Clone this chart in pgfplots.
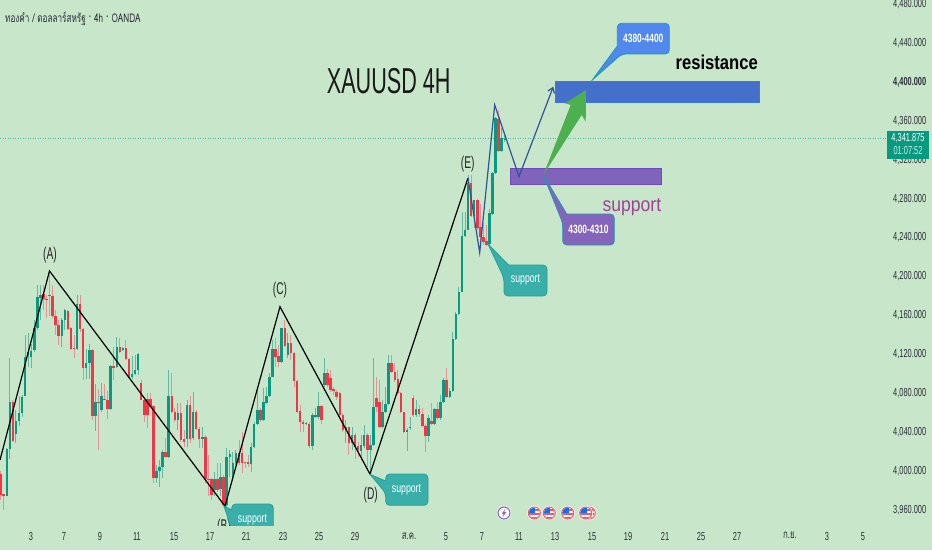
\documentclass[border=0pt]{standalone}
\usepackage{pgfplots}
\usepackage{pgfplotstable}
\usepackage{fontspec}
\usetikzlibrary{arrows.meta}
\pgfplotsset{compat=1.18}
\setmainfont[FakeStretch=.64]{Liberation Sans}
\newfontfamily\ftitle[FakeStretch=.6]{Liberation Sans}
\newfontfamily\fres[FakeStretch=.83]{Liberation Sans}
\newfontfamily\fsup[FakeStretch=.88]{Liberation Sans}
\newfontfamily\fcall[FakeStretch=.7]{Liberation Sans}
\newfontfamily\thaifont[Script=Thai,FakeStretch=.68]{Loma}
\definecolor{bgc}{HTML}{C8E6C9}
\definecolor{up}{HTML}{089981}
\definecolor{dn}{HTML}{F23645}
\definecolor{upw}{HTML}{62B8A0}
\definecolor{dnw}{HTML}{E8909A}
\definecolor{txt}{HTML}{2A2E39}
\definecolor{wave}{HTML}{2F5597}
\definecolor{tealc}{HTML}{3AAFA9}
\definecolor{teald}{HTML}{23A098}
\definecolor{bluec}{HTML}{5088EE}
\definecolor{purpc}{HTML}{8465BB}
\definecolor{edgec}{HTML}{1F98B0}
\definecolor{zoneb}{HTML}{4470CC}
\definecolor{zonebe}{HTML}{3C78E0}
\definecolor{zonep}{HTML}{8063BB}
\definecolor{zonepe}{HTML}{6F4BB5}
\definecolor{arrg}{HTML}{4CAF50}
\definecolor{supc}{HTML}{A0409A}
% i bottom top low high
\pgfplotstableread{
i bot top low high
2 3974 4022.5 3974 4023.5
3 4022.5 4071.5 4013 4116
5 4038 4052 4029 4063
6 4052 4060 4046 4077
7 4060 4076 4056 4078
8 4077 4117 4077 4140
9 4118 4123 4107 4142
10 4117 4124 4106 4131
11 4125 4147 4123 4155
12 4147 4179 4145 4191
13 4178 4181 4155 4191
20 4139 4155 4128 4157
21 4155 4166 4145 4167
25 4126 4172 4125 4181
28 4106 4111 4095 4126
29 4111 4125 4095 4131
31 4057 4071.5 4041 4090
33 4063 4077 4061 4091
36 4064 4108.5 4063 4109
38 4107.5 4128 4107 4138
40 4125 4127 4124.5 4127.3
43 4096.5 4100 4095 4118
44 4100 4104 4099 4119.4
45 4104 4120.5 4099 4121
51 3993 4000.5 3987.5 4006
52 4000.5 4004 3984 4011.5
53 4004 4020 3993 4021.8
55 4015 4077 4014 4104
58 4052.6 4059.5 4042 4070
61 4032.7 4068 4025 4073
63 4033.8 4060.5 4032 4081.8
66 4032.7 4035.5 4023.5 4045.8
70 3980.7 3991.6 3974 3999.5
72 3981.3 3994 3974 4008
74 3965 4015 3963.5 4023.5
75 4015 4017.3 3994.4 4021.8
76 3994.4 4008.8 3993 4020
77 4008 4019 4006 4021.8
82 4007.4 4025 3999.5 4028.6
83 4025 4049 4023.5 4051
84 4049 4063 4047.5 4085
86 4052.6 4071.5 4052 4085
87 4070 4077 4069 4087
88 4077.6 4097 4076.6 4100.6
89 4097 4126 4097 4135
92 4112.6 4147.5 4112 4147.5
94 4119.4 4131.4 4116 4141.7
100 4049 4050 4048.5 4051
102 4026 4057.7 4022 4059.5
103 4056 4057.7 4055 4064.6
104 4056 4067 4054 4081.7
106 4088.6 4100.6 4087 4116
113 4042 4045.8 4028.6 4052.6
115 4028.6 4037 4022 4045.8
118 4021 4027 4011.5 4037
119 4026 4037 4023.5 4047.5
121 4022 4027 3999.5 4037
122 4027 4066 4026 4116
125 4045.8 4061 4044 4073
126 4061 4069 4059.5 4087
127 4069 4111 4068 4119.4
133 4040.6 4042 4021 4044
134 4044 4045.8 4042 4056
136 4057.7 4063.6 4056 4073
140 4036.5 4055 4030 4057.7
142 4048.5 4063.6 4047.5 4064.6
144 4055 4071.5 4052.6 4078
145 4070.8 4093.7 4069.7 4095.5
147 4076.6 4082.4 4076 4085
148 4082.4 4135.5 4081.7 4143.4
149 4135.5 4162 4134.8 4164
150 4162 4184.5 4160.5 4189.6
151 4184 4242 4184 4266.8
152 4242 4248 4241 4266.8
153 4248 4296 4248 4304
155 4262 4278.7 4249.6 4278.7
160 4233.5 4265 4232.5 4269
161 4264.3 4306.8 4263 4308
162 4306.8 4362.7 4306 4364
164 4329 4342 4328.5 4352.4
165 4340.7 4341.875 4338.7 4347
}\greens
\pgfplotstableread{
i bot top low high
0 3976 3997 3970 4000
1 3974 3977 3960 3977
4 4031 4071.5 4030 4073
14 4177 4182 4166 4191
15 4176 4177 4157 4181
16 4180 4181 4159 4203
17 4159.5 4180 4157 4191
18 4150 4159.5 4140 4166
19 4139 4150 4130 4155
22 4146 4165 4145 4166
23 4126 4147 4125 4148.5
24 4126 4127 4116 4140
26 4146 4172 4143 4181
27 4106 4146 4094 4147
30 4057 4125 4053 4126
32 4070.5 4071.5 4022 4084
34 4073 4074 4073 4090
35 4064 4073 4054 4082
37 4106 4108 4094 4128
39 4123 4128 4122 4136.5
41 4115 4127 4114 4135
42 4096.5 4115 4095 4116
46 4073 4091 4073 4094
47 4058 4073 4051 4075
48 4058 4074 4044 4080
49 4066 4074 4064.6 4080
50 3993 4067 3987.5 4068
54 4015 4020 4015 4034
56 4060.5 4077 4059.5 4100.6
57 4052.6 4060.5 4051 4064.6
59 4032 4059.5 4030 4070
60 4030.3 4032.7 4025 4042
62 4033 4068 4028.6 4077
64 4043 4060.5 4042 4063
65 4032.7 4043 4023.5 4045.8
67 3991.6 4035.5 3987.5 4037
68 3991 3992 3974 4016.6
69 3975.5 3991.6 3970 3992.7
71 3980.7 3991.6 3979 4008
73 3965 3994 3963.5 3996
78 4008 4019 4006 4032
79 4008 4019 3998.5 4040.6
80 4008 4009 4003 4009.8
81 4007 4009 4004.6 4016.6
85 4052.6 4063 4051 4064.6
90 4117.7 4126 4107.4 4136.5
91 4112.6 4118.4 4107.4 4129.7
93 4129 4147.5 4128 4155
95 4121 4131.4 4114 4140
96 4092.7 4121 4087 4122.8
97 4061 4092.7 4059.5 4093.7
98 4051 4062 4040.6 4068
99 4049 4051 4040.6 4052.6
101 4026 4049 4023.5 4051
105 4052.6 4067 4049 4068
107 4088.6 4100.6 4087 4104.7
108 4083.5 4095.5 4081.7 4104
109 4082.4 4084.5 4078 4087
110 4076.6 4081.7 4073 4083.5
111 4057.7 4080 4056 4081.7
112 4042 4057.7 4040.6 4059.5
114 4028.6 4045 4016.6 4045.8
116 4025 4037 4013 4039
117 4022 4026 4015 4030
120 4022 4037 4004.6 4039
123 4066 4075 4061 4097
124 4045.8 4071.5 4044 4093.7
128 4102 4111 4100.6 4119.4
129 4093.7 4102 4092 4111
130 4080 4094.4 4078 4104
131 4061 4080 4059.5 4081.7
132 4040 4060.5 4039 4061
135 4057.7 4075 4056 4078
137 4058.4 4063.6 4056 4068
138 4046.8 4058.4 4045.8 4064.6
139 4036 4046.8 4020 4049
141 4049 4052 4047.5 4069.7
143 4055 4063.6 4053 4071.5
146 4076.6 4093.7 4075 4105.7
154 4262 4296 4261.6 4304
156 4249.6 4278.7 4248 4279.4
157 4241 4250.6 4230.8 4275
158 4236 4241 4232.5 4254.8
159 4232.5 4237 4232 4253
163 4329 4361.6 4328 4371
}\reds
\newcommand{\usflag}[1]{%
  \fill[white] (#1,513) circle (7.2);
  \begin{scope}
    \clip (#1,513) circle (5.6);
    \fill[white] (#1-6,507) rectangle (#1+6,519);
    \fill[dn!85] (#1-6,513) rectangle (#1+6,515);
    \fill[dn!85] (#1-6,516.5) rectangle (#1+6,519);
    \fill[dn!85] (#1+1,509) rectangle (#1+6,511);
    \fill[blue!55!cyan] (#1-6,507) rectangle (#1+1,512.5);
  \end{scope}
  \draw[dn!85,line width=1pt] (#1,513) circle (6);
}
\begin{document}
\begin{tikzpicture}
\useasboundingbox (0,0) rectangle (932pt,550pt);
\fill[bgc] (0,0) rectangle (932pt,550pt);
\begin{axis}[
  at={(0,0)},anchor=south west,
  scale only axis,width=932pt,height=550pt,
  xmin=0,xmax=932,ymin=3919,ymax=4484.27,
  axis line style={draw=none},
  tick style={draw=none},
  major tick length=0pt,
  font=\fontsize{11.6}{13}\selectfont\color{txt},
  ytick={3960,4000,4040,4080,4120,4160,4200,4240,4280,4320,4360,4400,4440,4480},
  yticklabels={{3,960.000},{4,000.000},{4,040.000},{4,080.000},{4,120.000},{4,160.000},{4,200.000},{4,240.000},{4,280.000},{4,320.000},{4,360.000},{\textbf{4,400.000}},{4,440.000},{4,480.000}},
  yticklabel pos=right,
  yticklabel shift=-39pt,
  yticklabel style={anchor=west,inner sep=0pt},
  xtick={31,64,100,137,174,210,246,283,319,355,409,446,482,519,555,592,628,665,701,737,790,827,863},
  xticklabels={3,7,9,11,15,17,21,23,25,29,{\thaifont ส.ค.},5,7,11,13,15,19,21,25,27,{\thaifont ก.ย.},3,5},
  xticklabel shift=-18pt,
  xticklabel style={inner sep=0pt},
  clip=true,
]
% last price line
\addplot[up!70,line width=0.5pt,dotted,forget plot] coordinates {(0,4341.875)(887,4341.875)};
% wicks
\addplot[draw=none,mark=none,forget plot,error bars/.cd,y dir=both,y explicit,error mark=none,error bar style={upw,line width=0.9pt}]
  table[x expr=0.67+3.055*\thisrow{i},y=bot,y error plus expr=\thisrow{high}-\thisrow{bot},y error minus expr=\thisrow{bot}-\thisrow{low}] {\greens};
\addplot[draw=none,mark=none,forget plot,error bars/.cd,y dir=both,y explicit,error mark=none,error bar style={dnw,line width=0.9pt}]
  table[x expr=0.67+3.055*\thisrow{i},y=bot,y error plus expr=\thisrow{high}-\thisrow{bot},y error minus expr=\thisrow{bot}-\thisrow{low}] {\reds};
% bodies
\addplot[draw=none,mark=none,forget plot,error bars/.cd,y dir=plus,y explicit,error mark=none,error bar style={up,line width=2.5pt}]
  table[x expr=0.67+3.055*\thisrow{i},y=bot,y error plus expr=\thisrow{top}-\thisrow{bot}] {\greens};
\addplot[draw=none,mark=none,forget plot,error bars/.cd,y dir=plus,y explicit,error mark=none,error bar style={dn,line width=2.5pt}]
  table[x expr=0.67+3.055*\thisrow{i},y=bot,y error plus expr=\thisrow{top}-\thisrow{bot}] {\reds};
% zones
\addplot[draw=zonebe,line width=0.8pt,fill=zoneb,forget plot] coordinates {(555,4400.3)(759,4400.3)(759,4379.1)(555,4379.1)} -- cycle;
\addplot[draw=zonepe,line width=0.8pt,fill=zonep,forget plot] coordinates {(510,4311.6)(661.7,4311.6)(661.7,4295.2)(510,4295.2)} -- cycle;
% waves
\addplot[black,line width=1.2pt,forget plot] coordinates {(0,4011.5)(49.5,4205.8)(225,3964)(280,4169)(370,3997)(468,4301.3)};
\addplot[wave,line width=1.2pt,forget plot,-{Straight Barb[length=5pt,width=7pt]}] coordinates {(468,4301.3)(479.7,4224.6)(494.7,4376.4)(519,4302.7)(553.3,4395.2)};
\end{axis}
\begin{scope}[x=1pt,y=-1pt,shift={(0,550pt)}]
% top-left
\node[anchor=west,inner sep=0pt,text=txt,font=\thaifont\fontsize{12}{13}\selectfont] at (5,19) {ทองคำ / ดอลลาร์สหรัฐ · 4h · OANDA};
% title and labels
\node[anchor=base west,inner sep=0pt,text=black!90,font=\ftitle\fontsize{36}{38}\selectfont] at (326.7,93.3) {XAUUSD 4H};
\node[anchor=base west,inner sep=0pt,text=black,font=\fres\bfseries\fontsize{20}{22}\selectfont] at (675.5,69.3) {resistance};
\node[anchor=base west,inner sep=0pt,text=supc,font=\fsup\fontsize{20}{22}\selectfont] at (602.3,211.7) {support};
\foreach \t/\x/\y in {(A)/50/255,(C)/280/290,(D)/370.7/495,(E)/467.7/164}
  \node[text=black!85,font=\ftitle\fontsize{17}{18}\selectfont,inner sep=0pt] at (\x,\y) {\t};
% green arrow
\fill[arrg] (543.3,175) -- (570.7,105) -- (565,103.3) -- (586,90) -- (585.7,121.7) -- (581.7,115) -- cycle;
% callouts
\draw[fill=bluec,draw=edgec,line width=0.8pt] (592.3,80) -- (617.3,46) [rounded corners=4pt] -- (617.3,23.3) -- (669.3,23.3) -- (669.3,54) -- (621.7,54) [sharp corners] -- cycle;
\node[text=white,font=\fcall\bfseries\fontsize{12}{13}\selectfont,inner sep=0pt] at (643.3,38) {4380-4400};
\draw[fill=purpc,draw=edgec,line width=0.8pt] (543.3,175) -- (566.7,214) [rounded corners=4pt] -- (614.3,214) -- (614.3,245) -- (562.7,245) -- (562.7,223) [sharp corners] -- cycle;
\node[text=white,font=\fcall\bfseries\fontsize{12}{13}\selectfont,inner sep=0pt] at (588.5,229) {4300-4310};
\draw[fill=tealc,draw=teald,line width=0.8pt] (488,244) -- (508.5,265) [rounded corners=4pt] -- (547,265) -- (547,296) -- (504,296) -- (504,278) [sharp corners] -- cycle;
\node[text=white,font=\fcall\fontsize{12.5}{13}\selectfont,inner sep=0pt] at (525.5,280) {support};
\draw[fill=tealc,draw=teald,line width=0.8pt] (370,474.3) -- (385.7,481) [rounded corners=4pt] -- (385.7,474) -- (428,474) -- (428,505.3) -- (385.7,505.3) -- (385.7,493) [sharp corners] -- cycle;
\node[text=white,font=\fcall\fontsize{12.5}{13}\selectfont,inner sep=0pt] at (406.5,489.5) {support};
\begin{scope}
\clip (0,0) rectangle (932,525);
\node[text=black!85,font=\ftitle\fontsize{17}{18}\selectfont,inner sep=0pt,anchor=north] at (224,519) {(B)};
\draw[fill=tealc,draw=teald,line width=0.8pt] (224,506) -- (231.7,510) [rounded corners=4pt] -- (231.7,504) -- (273.3,504) -- (273.3,540) -- (235,540) [sharp corners] -- cycle;
\node[text=white,font=\fcall\fontsize{12.5}{13}\selectfont,inner sep=0pt] at (252.5,519.5) {support};
\end{scope}
% events
\fill[white] (504,513) circle (7.2);
\draw[purpc,line width=1.1pt] (504,513) circle (6);
\fill[purpc] (505.5,508.5) -- (501.8,513.8) -- (503.8,513.8) -- (502.5,517.5) -- (506.2,512) -- (504.2,512) -- cycle;
\usflag{534.3}
\usflag{549.3}
\usflag{567.7}
\usflag{589.3}
\usflag{585.7}
% price tag
\fill[up] (887,131) rectangle (929,159);
\node[text=white,font=\fontsize{11.6}{13}\selectfont,inner sep=0pt] at (908,138.5) {4,341.875};
\node[text=white!80!up,font=\fontsize{11.6}{13}\selectfont,inner sep=0pt] at (908,151) {01:07:52};
\end{scope}
\end{tikzpicture}
\end{document}
